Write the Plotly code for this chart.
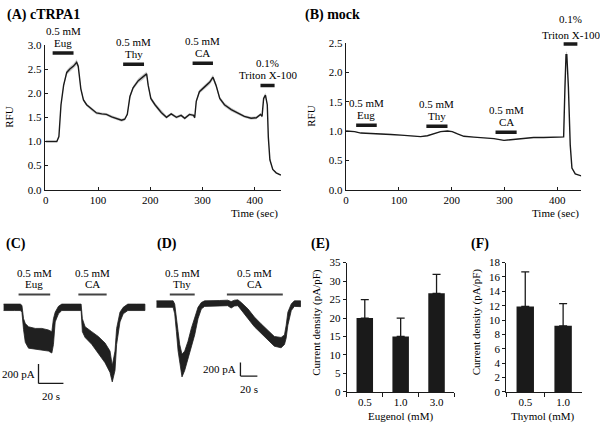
import plotly.graph_objects as go

# ---------------- data ----------------
# (A) cTRPA1 calcium imaging (RFU vs time, mean +/- SEM)
A_time = [0, 21, 25, 29, 34, 40, 46, 53, 59, 62, 67, 72, 78, 88, 97, 107, 116, 126, 136, 145,
          151, 156, 161, 167, 177, 186, 193, 196, 201, 209, 221, 231, 240, 250, 259, 266, 275,
          283, 285, 288, 294, 304, 314, 320, 326, 333, 342, 355, 368, 380, 393, 403, 411, 414,
          417, 420.5, 424, 426, 429, 434.5, 441, 450]
A_rfu = [1.00, 1.00, 1.10, 1.76, 2.16, 2.43, 2.50, 2.56, 2.64, 2.56, 2.09, 1.86, 1.76, 1.66, 1.59,
         1.57, 1.56, 1.51, 1.47, 1.44, 1.46, 1.56, 1.93, 2.11, 2.26, 2.33, 2.40, 2.16, 1.89, 1.76,
         1.60, 1.50, 1.57, 1.50, 1.54, 1.48, 1.56, 1.54, 1.49, 1.83, 2.03, 2.13, 2.23, 2.33, 2.16,
         1.89, 1.76, 1.66, 1.59, 1.52, 1.48, 1.49, 1.56, 1.52, 1.89, 1.96, 1.76, 1.09, 0.62, 0.42,
         0.35, 0.30]
A_sem = [0.005, 0.005, 0.01, 0.03, 0.04, 0.05, 0.05, 0.05, 0.06, 0.05, 0.04, 0.03, 0.03, 0.03, 0.03,
         0.03, 0.03, 0.03, 0.03, 0.03, 0.03, 0.03, 0.04, 0.04, 0.05, 0.05, 0.05, 0.04, 0.04, 0.04,
         0.04, 0.03, 0.03, 0.03, 0.03, 0.03, 0.03, 0.03, 0.03, 0.04, 0.04, 0.05, 0.05, 0.05, 0.05,
         0.04, 0.04, 0.04, 0.04, 0.03, 0.03, 0.03, 0.03, 0.03, 0.04, 0.05, 0.04, 0.03, 0.02, 0.01,
         0.01, 0.01]

# (B) mock
B_time = [0, 16, 28, 47, 66, 85, 104, 123, 141, 154, 170, 179, 192, 201, 211, 223, 242, 261, 280,
          299, 317, 336, 355, 374, 406, 412, 414.5, 416.5, 418, 421, 424.5, 427.7, 434, 447]
B_rfu = [1.00, 0.99, 0.965, 0.96, 0.95, 0.94, 0.93, 0.915, 0.905, 0.92, 0.965, 0.99, 1.00, 0.99,
         0.95, 0.91, 0.895, 0.88, 0.87, 0.84, 0.855, 0.875, 0.89, 0.89, 0.89, 0.90, 1.75, 2.30,
         2.30, 1.75, 0.76, 0.37, 0.27, 0.23]
B_sem = [0.004] * 26 + [0.03, 0.05, 0.05, 0.03, 0.01, 0.005, 0.004, 0.004]

# Stimuli for A and B (start, end in sec; bar level in RFU)
stim_line1 = ["0.5 mM", "0.5 mM", "0.5 mM", "0.1%"]
stim_line2 = ["Eug", "Thy", "CA", "Triton X-100"]
A_stim_start = [13, 148, 281, 411]
A_stim_end = [53, 188, 320, 438]
A_stim_level = [2.83, 2.60, 2.62, 2.16]
B_stim_start = [19, 152, 283, 412]
B_stim_end = [58, 192, 323, 438]
B_stim_level = [1.10, 1.08, 0.98, 2.48]

# (C) whole-cell current, envelope of noisy trace (time s, current pA)
C_t = [1.3, 10, 14.7, 16, 17.3, 18.7, 21.3, 26.7, 32, 37.3, 40, 41.3, 42.7, 45.3, 48, 55, 63.5,
       64.5, 66.7, 72, 77.3, 82.7, 86.7, 88.5, 90.7, 92, 94.7, 97.3, 101, 108, 114.7]
C_top = [33, 33, 33, 20, -117, -167, -200, -217, -217, -233, -250, -117, -50, 10, 33, 33, 33,
         -117, -200, -250, -300, -367, -450, -600, -450, -217, -50, 0, 33, 33, 33]
C_bot = [-33, -33, -33, -50, -230, -360, -420, -430, -440, -450, -470, -383, -150, -67, -33, -33,
         -33, -250, -310, -380, -470, -570, -670, -767, -650, -383, -150, -67, -33, -33, -33]
C_stim_names = ["Eug", "CA"]
C_stim_start = [13.3, 61.3]
C_stim_end = [38.7, 84.0]

# (D)
D_t = [5.9, 15, 25.5, 27.4, 29.4, 31.4, 33.3, 36, 39.2, 43.1, 47, 51, 54.9, 58.8, 62.7, 80, 90,
       94, 98, 102, 106, 114, 121.5, 129, 137, 145, 153, 157, 159, 161, 165, 168.6, 176]
D_top = [45, 45, 45, -2, -169, -407, -597, -740, -693, -550, -360, -217, -50, 21, 45, 50, 55,
         35, 55, 60, 21, -74, -193, -288, -383, -478, -493, -455, -312, -121, 0, 45, 45]
D_bot = [-50, -50, -50, -145, -407, -693, -883, -1073, -978, -835, -645, -455, -217, -74, -36,
         -30, -26, -60, -30, -26, -98, -217, -336, -431, -526, -621, -645, -597, -502, -312, -98,
         -36, -40]
D_stim_names = ["Thy", "CA"]
D_stim_start = [21.6, 89.0]
D_stim_end = [51.0, 155.0]

scale_pA = 200
scale_s = 20

# (E) Eugenol current density
E_cat = ["0.5", "1.0", "3.0"]
E_val = [20.0, 15.0, 26.7]
E_err = [5.0, 5.0, 5.1]
# (F) Thymol
F_cat = ["0.5", "1.0"]
F_val = [11.9, 9.2]
F_err = [4.8, 3.1]

# ---------------- figure ----------------
W, H = 600, 429
FONT = "Liberation Serif, DejaVu Serif, serif"
INK = "#1a1a1a"


def px(x):
    return x / W


def py(y):
    return 1 - y / H


fig = go.Figure()

# A
fig.add_trace(go.Scatter(
    x=A_time + A_time[::-1],
    y=[v + s for v, s in zip(A_rfu, A_sem)] + [v - s for v, s in zip(A_rfu, A_sem)][::-1],
    fill="toself", fillcolor="#cccccc", line=dict(width=0), mode="lines",
    hoverinfo="skip", xaxis="x", yaxis="y"))
fig.add_trace(go.Scatter(x=A_time, y=A_rfu, mode="lines", line=dict(color=INK, width=1.4),
                         xaxis="x", yaxis="y"))
# B
fig.add_trace(go.Scatter(
    x=B_time + B_time[::-1],
    y=[v + s for v, s in zip(B_rfu, B_sem)] + [v - s for v, s in zip(B_rfu, B_sem)][::-1],
    fill="toself", fillcolor="#cccccc", line=dict(width=0), mode="lines",
    hoverinfo="skip", xaxis="x2", yaxis="y2"))
fig.add_trace(go.Scatter(x=B_time, y=B_rfu, mode="lines", line=dict(color=INK, width=1.4),
                         xaxis="x2", yaxis="y2"))
# C, D current traces
for t, top, bot, ax in [(C_t, C_top, C_bot, "3"), (D_t, D_top, D_bot, "4")]:
    fig.add_trace(go.Scatter(x=t + t[::-1], y=top + bot[::-1], fill="toself",
                             fillcolor="#202020", line=dict(color="#202020", width=0.8),
                             mode="lines", xaxis="x" + ax, yaxis="y" + ax))
# E, F bars
fig.add_trace(go.Bar(x=E_cat, y=E_val, width=0.46, marker=dict(color=INK, line=dict(width=0)),
                     error_y=dict(type="data", symmetric=False, array=E_err,
                                  arrayminus=[0] * len(E_err), color=INK, thickness=1.3, width=4),
                     xaxis="x5", yaxis="y5"))
fig.add_trace(go.Bar(x=F_cat, y=F_val, width=0.46, marker=dict(color=INK, line=dict(width=0)),
                     error_y=dict(type="data", symmetric=False, array=F_err,
                                  arrayminus=[0] * len(F_err), color=INK, thickness=1.3, width=4),
                     xaxis="x6", yaxis="y6"))

shapes = []
annots = []


def label(text, x, y, xref, yref, yshift=0, xshift=0, size=11, xanchor="center", bold=False):
    annots.append(dict(text=("<b>%s</b>" % text) if bold else text, x=x, y=y, xref=xref,
                       yref=yref, showarrow=False, xanchor=xanchor, yanchor="middle",
                       yshift=yshift, xshift=xshift,
                       font=dict(family=FONT, size=size, color="black")))


# stimulus bars A, B
for (st, en, lv, xa, ya, panel) in [(A_stim_start, A_stim_end, A_stim_level, "x", "y", "A"),
                                      (B_stim_start, B_stim_end, B_stim_level, "x2", "y2", "B")]:
    rng = 3.0 if panel == "A" else 2.5
    for i in range(len(st)):
        shapes.append(dict(type="line", xref=xa, yref=ya + " domain", x0=st[i], x1=en[i],
                           y0=lv[i] / rng, y1=lv[i] / rng, line=dict(color=INK, width=3.5)))
        cx = (st[i] + en[i]) / 2
        s1, s2 = 22, 10
        if panel == "B" and i == 3:
            s1, s2 = 25, 9
        label(stim_line1[i], cx, lv[i], xa, ya, yshift=s1)
        label(stim_line2[i], cx, lv[i], xa, ya, yshift=s2)

# stimulus bars C, D (drawn at fixed height above baseline)
for (names, st, en, xa, ya, lv) in [(C_stim_names, C_stim_start, C_stim_end, "x3", "y3", 133),
                                     (D_stim_names, D_stim_start, D_stim_end, "x4", "y4", 140)]:
    for i in range(len(st)):
        shapes.append(dict(type="line", xref=xa, yref=ya, x0=st[i], x1=en[i], y0=lv, y1=lv,
                           line=dict(color="#444444", width=2)))
        cx = (st[i] + en[i]) / 2
        label("0.5 mM", cx, lv, xa, ya, yshift=21)
        label(names[i], cx, lv, xa, ya, yshift=10)

# scale bars
for (xa, ya, t0, i0) in [("x3", "y3", 29.3, -583), ("x4", "y4", 105.0, -860)]:
    shapes.append(dict(type="line", xref=xa, yref=ya, x0=t0, x1=t0, y0=i0, y1=i0 - scale_pA,
                       line=dict(color=INK, width=1.3)))
    shapes.append(dict(type="line", xref=xa, yref=ya, x0=t0, x1=t0 + scale_s, y0=i0 - scale_pA,
                       y1=i0 - scale_pA, line=dict(color=INK, width=1.3)))
    label("%d pA" % scale_pA, t0, i0 - scale_pA / 2, xa, ya, xanchor="right", xshift=-2)
    label("%d s" % scale_s, t0 + scale_s / 2, i0 - scale_pA, xa, ya, yshift=-13)

# panel titles
label("(A) cTRPA1", px(3), py(9), "paper", "paper", size=14, xanchor="left", bold=True)
label("(B) mock", px(302), py(9), "paper", "paper", size=14, xanchor="left", bold=True)
label("(C)", px(2), py(245), "paper", "paper", size=14, xanchor="left", bold=True)
label("(D)", px(154), py(245), "paper", "paper", size=14, xanchor="left", bold=True)
label("(E)", px(308), py(245), "paper", "paper", size=14, xanchor="left", bold=True)
label("(F)", px(469), py(245), "paper", "paper", size=14, xanchor="left", bold=True)

# axis titles
for (t, x, y, ang) in [("RFU", 7, 114, -90), ("RFU", 310, 113, -90),
                       ("Time (sec)", 253, 213, 0), ("Time (sec)", 555, 213, 0),
                       ("Current density (pA/pF)", 316, 325, -90),
                       ("Current density (pA/pF)", 476, 325, -90),
                       ("Eugenol (mM)", 400, 422, 0), ("Thymol (mM)", 543, 422, 0)]:
    annots.append(dict(text=t, x=px(x), y=py(y), xref="paper", yref="paper", showarrow=False,
                       textangle=ang, xanchor="center", yanchor="middle",
                       font=dict(family=FONT, size=11, color="black")))

axis_common = dict(showline=True, linecolor=INK, linewidth=1.2, showgrid=False, zeroline=False,
                   ticks="inside", ticklen=3, tickcolor=INK, tickwidth=1.1,
                   tickfont=dict(family=FONT, size=11, color="black"))
hidden = dict(visible=False, showgrid=False, zeroline=False)

fig.update_layout(
    width=W, height=H, margin=dict(l=0, r=0, t=0, b=0),
    paper_bgcolor="white", plot_bgcolor="white", showlegend=False,
    font=dict(family=FONT, size=11, color="black"),
    xaxis=dict(domain=[px(43), px(280)], range=[-1.9, 450.4], anchor="y",
               tickvals=[0, 100, 200, 300, 400], **axis_common),
    yaxis=dict(domain=[py(189), py(40)], range=[0, 3], anchor="x",
               tickvals=[0, 0.5, 1, 1.5, 2, 2.5, 3], tickformat=".1f", **axis_common),
    xaxis2=dict(domain=[px(345), px(581)], range=[-0.5, 445], anchor="y2",
                tickvals=[0, 100, 200, 300, 400], **axis_common),
    yaxis2=dict(domain=[py(189), py(38)], range=[0, 2.5], anchor="x2",
                tickvals=[0, 0.5, 1, 1.5, 2, 2.5], tickformat=".1f", **axis_common),
    xaxis3=dict(domain=[0, px(150)], range=[0, 120], anchor="y3", **hidden),
    yaxis3=dict(domain=[py(400), py(255)], range=[-900, 550], anchor="x3", **hidden),
    xaxis4=dict(domain=[px(150), px(300)], range=[0, 176.5], anchor="y4", **hidden),
    yaxis4=dict(domain=[py(400), py(255)], range=[-1336, 736], anchor="x4", **hidden),
    xaxis5=dict(domain=[px(346), px(454)], type="category", range=[-0.5, 2.5], anchor="y5",
                **{**axis_common, "ticks": "outside", "ticklen": 4, "tickson": "boundaries"}),
    yaxis5=dict(domain=[py(397), py(264)], range=[0, 35], dtick=5, anchor="x5",
                **{**axis_common, "ticks": "outside"}),
    xaxis6=dict(domain=[px(506), px(582)], type="category", range=[-0.5, 1.5], anchor="y6",
                **{**axis_common, "ticks": "outside", "ticklen": 4, "tickson": "boundaries"}),
    yaxis6=dict(domain=[py(397), py(264)], range=[0, 18], dtick=2, anchor="x6",
                **{**axis_common, "ticks": "outside"}),
    shapes=shapes, annotations=annots,
)

fig.write_html("out.html", config={"displayModeBar": False},
               post_script="document.body.style.margin='0px';document.body.style.padding='0px';")
